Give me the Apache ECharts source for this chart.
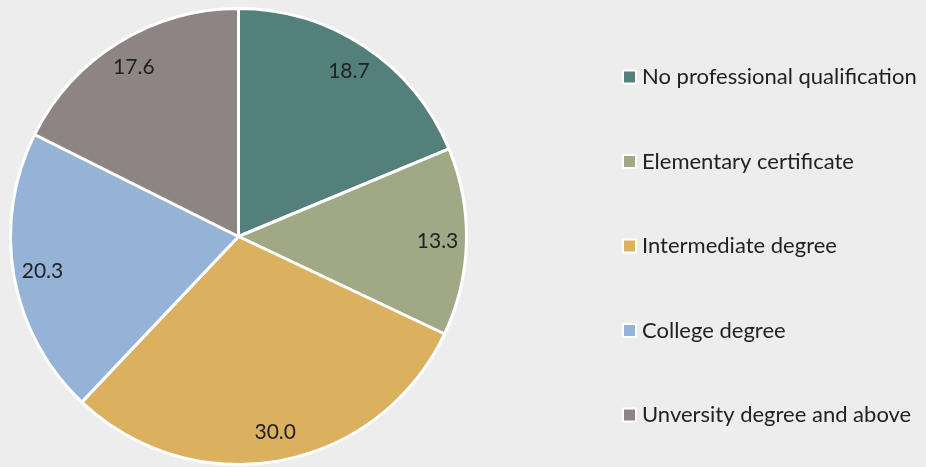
<!DOCTYPE html>
<html>
<head>
<meta charset="utf-8">
<script src="https://cdn.jsdelivr.net/npm/echarts@6/dist/echarts.min.js"></script>
<style>
  html, body { margin: 0; padding: 0; background: #ededed; }
  #chart { width: 926px; height: 467px; }
</style>
</head>
<body>
<div id="chart"></div>
<script>
// Share of respondents by level of qualification (%)
const categories = [
  'No professional qualification',
  'Elementary certificate',
  'Intermediate degree',
  'College degree',
  'Unversity degree and above'
];
const shares = [18.7, 13.3, 30.0, 20.3, 17.6];
const sliceColors = ['#53807a', '#a0a886', '#dbb05e', '#95b3d7', '#8c8584'];

const pieData = categories.map((name, i) => ({
  name: name,
  value: shares[i],
  itemStyle: { color: sliceColors[i] }
}));

const chart = echarts.init(document.getElementById('chart'), null, { renderer: 'canvas' });

const center = [238.5, 236.5];
const R = 228;

chart.setOption({
  backgroundColor: '#ededed',
  animation: false,
  legend: {
    orient: 'vertical',
    left: 622,
    top: 66,
    padding: 0,
    itemWidth: 13,
    itemHeight: 13,
    itemGap: 62.5,
    icon: 'rect',
    data: categories,
    textStyle: {
      fontFamily: 'Lato',
      fontSize: 22,
      lineHeight: 22,
      color: '#222222',
      padding: [0, 0, 0, 1]
    }
  },
  series: [
    {
      type: 'pie',
      center: center,
      radius: [0, R],
      startAngle: 90,
      clockwise: true,
      silent: true,
      itemStyle: { borderColor: '#ffffff', borderWidth: 3 },
      label: { show: false },
      labelLine: { show: false },
      data: pieData
    },
    {
      // transparent ring used only to place the value labels near the rim
      type: 'pie',
      center: center,
      radius: [R * 0.72, R],
      startAngle: 90,
      clockwise: true,
      silent: true,
      legendHoverLink: false,
      itemStyle: { color: 'rgba(0,0,0,0)', borderWidth: 0 },
      label: {
        show: true,
        position: 'inside',
        fontFamily: 'Lato',
        fontSize: 21,
        color: '#222222',
        formatter: p => p.value.toFixed(1)
      },
      labelLine: { show: false },
      data: categories.map((name, i) => ({ name: name, value: shares[i] }))
    }
  ]
});
</script>
</body>
</html>
